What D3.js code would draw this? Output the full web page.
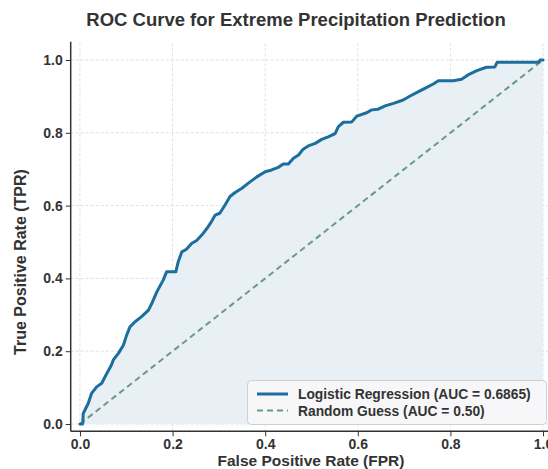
<!DOCTYPE html>
<html>
<head>
<meta charset="utf-8">
<script src="https://cdn.jsdelivr.net/npm/d3@7"></script>
<style>
  html, body { margin: 0; padding: 0; background: #fff; }
  svg { display: block; font-family: "Liberation Sans", Arial, sans-serif; }
</style>
</head>
<body>
<svg id="chart" width="548" height="469"></svg>
<script>
// ---- data ----
const title = "ROC Curve for Extreme Precipitation Prediction";
const xLabel = "False Positive Rate (FPR)";
const yLabel = "True Positive Rate (TPR)";
const tickValues = [0, 0.2, 0.4, 0.6, 0.8, 1.0];
const seriesNames = ["Logistic Regression (AUC = 0.6865)", "Random Guess (AUC = 0.50)"];
const fpr = [0, 0.006, 0.007, 0.018, 0.025, 0.036, 0.047, 0.058, 0.068, 0.072, 0.083, 0.094, 0.101, 0.108, 0.119, 0.133, 0.148, 0.155, 0.166, 0.180, 0.187, 0.207, 0.212, 0.220, 0.230, 0.241, 0.252, 0.263, 0.274, 0.284, 0.292, 0.302, 0.313, 0.324, 0.335, 0.349, 0.363, 0.382, 0.400, 0.414, 0.428, 0.439, 0.450, 0.461, 0.472, 0.482, 0.493, 0.508, 0.522, 0.536, 0.551, 0.558, 0.569, 0.587, 0.598, 0.619, 0.630, 0.644, 0.659, 0.677, 0.698, 0.713, 0.731, 0.749, 0.763, 0.774, 0.806, 0.824, 0.838, 0.857, 0.878, 0.896, 0.901, 0.990, 0.994, 1.0];
const tpr = [0, 0, 0.029, 0.057, 0.084, 0.102, 0.112, 0.139, 0.162, 0.176, 0.194, 0.217, 0.245, 0.267, 0.281, 0.295, 0.313, 0.331, 0.363, 0.396, 0.418, 0.418, 0.445, 0.473, 0.480, 0.496, 0.504, 0.519, 0.537, 0.556, 0.574, 0.579, 0.601, 0.625, 0.636, 0.647, 0.661, 0.679, 0.693, 0.698, 0.705, 0.714, 0.714, 0.730, 0.739, 0.755, 0.764, 0.771, 0.782, 0.789, 0.798, 0.817, 0.829, 0.830, 0.846, 0.855, 0.863, 0.865, 0.874, 0.881, 0.890, 0.901, 0.913, 0.925, 0.934, 0.943, 0.943, 0.947, 0.959, 0.971, 0.980, 0.981, 0.994, 0.994, 1.0, 1.0];
const diagX = [0, 1];
const diagY = [0, 1];

// ---- layout ----
const svg = d3.select("#chart");
const x = d3.scaleLinear().domain([-0.02, 1.02]).range([70.7, 552.3]);
const y = d3.scaleLinear().domain([-0.02, 1.05]).range([431.3, 41.8]);

const curveColor = "#1c6e9c";
const diagColor = "#6a9a82";

// grid
const grid = svg.append("g");
grid.selectAll(".gx").data(tickValues).join("line")
  .attr("x1", d => x(d)).attr("x2", d => x(d))
  .attr("y1", y.range()[0]).attr("y2", y.range()[1])
  .attr("stroke", "#d9d9d9").attr("stroke-width", 0.8).attr("stroke-dasharray", "3,2");
grid.selectAll(".gy").data(tickValues).join("line")
  .attr("y1", d => y(d)).attr("y2", d => y(d))
  .attr("x1", x.range()[0]).attr("x2", x.range()[1])
  .attr("stroke", "#d9d9d9").attr("stroke-width", 0.8).attr("stroke-dasharray", "3,2");

const pts = fpr.map((v, i) => [v, tpr[i]]);

// fill under curve
svg.append("path").datum(pts)
  .attr("d", d3.area().x(d => x(d[0])).y0(y(0)).y1(d => y(d[1])))
  .attr("fill", "#e6edf4").attr("fill-opacity", 0.9);

// diagonal
svg.append("path").datum(diagX.map((v, i) => [v, diagY[i]]))
  .attr("d", d3.line().x(d => x(d[0])).y(d => y(d[1])))
  .attr("fill", "none").attr("stroke", diagColor).attr("stroke-width", 2)
  .attr("stroke-dasharray", "6,4");

// ROC curve
svg.append("path").datum(pts)
  .attr("d", d3.line().x(d => x(d[0])).y(d => y(d[1])))
  .attr("fill", "none").attr("stroke", curveColor).attr("stroke-width", 3)
  .attr("stroke-linejoin", "round").attr("stroke-linecap", "round");

// axes
const xAxis = svg.append("g").attr("transform", `translate(0,${y.range()[0]})`)
  .call(d3.axisBottom(x).tickValues(tickValues).tickFormat(d3.format(".1f")).tickSize(5).tickPadding(3));
const yAxis = svg.append("g").attr("transform", `translate(${x.range()[0]},0)`)
  .call(d3.axisLeft(y).tickValues(tickValues).tickFormat(d3.format(".1f")).tickSize(5).tickPadding(3));
[xAxis, yAxis].forEach(a => {
  a.select(".domain").attr("stroke", "#333").attr("stroke-width", 1.5);
  a.selectAll(".tick line").attr("stroke", "#333").attr("stroke-width", 1);
  a.selectAll(".tick text").attr("fill", "#333").attr("font-size", 14).attr("font-weight", "bold")
    .attr("font-family", "Liberation Sans, Arial, sans-serif");
});
xAxis.select(".domain").attr("d", `M${x.range()[0]},0H${x.range()[1]}`);
yAxis.select(".domain").attr("d", `M0,${y.range()[0]}V${y.range()[1]}`);

// legend
const lg = svg.append("g");
lg.append("rect").attr("x", 247.5).attr("y", 380.5).attr("width", 299).attr("height", 44)
  .attr("rx", 4).attr("fill", "#f7f7f8").attr("fill-opacity", 0.92)
  .attr("stroke", "#d0d0d0").attr("stroke-width", 1);
const rows = [
  { name: seriesNames[0], color: curveColor, dash: null, w: 3, yy: 394 },
  { name: seriesNames[1], color: diagColor, dash: "6,4", w: 2, yy: 410.5 }
];
rows.forEach(r => {
  lg.append("line").attr("x1", 257).attr("x2", 288).attr("y1", r.yy).attr("y2", r.yy)
    .attr("stroke", r.color).attr("stroke-width", r.w).attr("stroke-dasharray", r.dash);
  lg.append("text").attr("x", 298).attr("y", r.yy + 5).text(r.name)
    .attr("font-size", 13.8).attr("font-weight", "bold").attr("fill", "#333");
});

// title & labels
svg.append("text").attr("x", 296).attr("y", 25.5).attr("text-anchor", "middle")
  .attr("font-size", 18.5).attr("font-weight", "bold").attr("fill", "#333").text(title);
svg.append("text").attr("x", 311).attr("y", 466).attr("text-anchor", "middle")
  .attr("font-size", 15.5).attr("font-weight", "bold").attr("fill", "#333").text(xLabel);
svg.append("text").attr("transform", "translate(26,262) rotate(-90)").attr("text-anchor", "middle")
  .attr("font-size", 16).attr("font-weight", "bold").attr("fill", "#333").text(yLabel);
</script>
</body>
</html>
